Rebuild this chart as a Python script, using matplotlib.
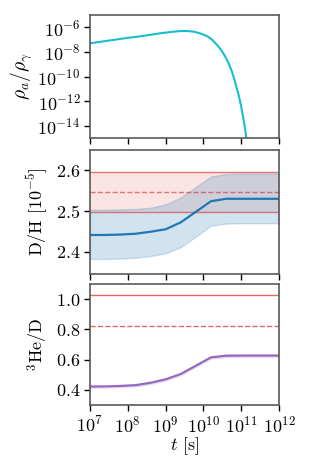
import numpy as np
import matplotlib
matplotlib.use('Agg')
import matplotlib.pyplot as plt
import matplotlib.ticker as mt

plt.rcParams['font.family'] = ['cmr10', 'DejaVu Serif']
plt.rcParams['mathtext.fontset'] = 'cm'
plt.rcParams['axes.formatter.use_mathtext'] = True
plt.rcParams['font.size'] = 13

# axion energy density ratio (log10 values)
logt_rho = [7.0, 7.5, 8.0, 8.32, 8.85, 9.2, 9.38, 9.55, 9.73, 9.9, 10.09, 10.22, 10.35,
            10.47, 10.57, 10.67, 10.75, 10.82, 10.88, 10.94, 10.99, 11.03, 11.07, 11.1, 11.14]
logrho = [-7.30, -7.08, -6.86, -6.74, -6.49, -6.36, -6.31, -6.30, -6.35, -6.48, -6.71, -6.98, -7.39,
          -7.85, -8.34, -8.95, -9.57, -10.25, -10.93, -11.6, -12.29, -12.95, -13.65, -14.2, -15.1]

# BBN outputs on the time grid
logt = [7.0, 7.4, 7.8, 8.2, 8.6, 9.0, 9.4, 9.8, 10.2, 10.6, 11.0, 11.4, 11.8, 12.0]
dh_mid = [2.441, 2.441, 2.442, 2.444, 2.449, 2.455, 2.472, 2.498, 2.524, 2.530, 2.530, 2.530, 2.530, 2.530]
dh_hi = [2.503, 2.503, 2.504, 2.505, 2.508, 2.516, 2.533, 2.559, 2.585, 2.591, 2.592, 2.592, 2.592, 2.592]
dh_lo = [2.382, 2.382, 2.383, 2.385, 2.389, 2.396, 2.411, 2.437, 2.464, 2.469, 2.470, 2.470, 2.470, 2.470]
he3d_mid = [0.422, 0.423, 0.426, 0.431, 0.447, 0.470, 0.505, 0.560, 0.615, 0.626, 0.627, 0.627, 0.627, 0.627]
he3d_err = 0.012

# observations
dh_obs, dh_obs_err = 2.547, 0.05
he3d_obs, he3d_up = 0.82, 1.03

t_rho = 10**np.array(logt_rho)
rho = 10**np.array(logrho)
t = 10**np.array(logt)
he3d_mid = np.array(he3d_mid)

fig = plt.figure(figsize=(3.12, 4.68), dpi=100)
L, W = 0.2885, 0.6058
ax1 = fig.add_axes([L, 0.705, W, 0.263])
ax2 = fig.add_axes([L, 0.4145, W, 0.265])
ax3 = fig.add_axes([L, 0.1346, W, 0.2584])

ax1.plot(t_rho, rho, color='#17becf', lw=1.5)
ax1.set_yscale('log')
ax1.set_ylim(1e-15, 1e-5)
ax1.yaxis.set_major_locator(mt.FixedLocator([1e-6, 1e-8, 1e-10, 1e-12, 1e-14]))
ax1.set_ylabel(r'$\rho_a/\rho_\gamma$', labelpad=2, fontsize=14)

ax2.axhspan(dh_obs - dh_obs_err, dh_obs + dh_obs_err, color='tab:red', alpha=0.12, lw=0)
ax2.axhline(dh_obs + dh_obs_err, color='tab:red', alpha=0.6, lw=1)
ax2.axhline(dh_obs - dh_obs_err, color='tab:red', alpha=0.6, lw=1)
ax2.axhline(dh_obs, color='tab:red', alpha=0.6, lw=1, ls='--')
ax2.fill_between(t, dh_lo, dh_hi, color='tab:blue', alpha=0.2, lw=1)
ax2.plot(t, dh_mid, color='tab:blue', lw=1.6)
ax2.set_ylim(2.345, 2.65)
ax2.set_yticks([2.4, 2.5, 2.6])
ax2.set_ylabel(r'D/H [$10^{-5}$]', labelpad=4)

ax3.axhline(he3d_up, color='tab:red', alpha=0.7, lw=1)
ax3.axhline(he3d_obs, color='tab:red', alpha=0.7, lw=1, ls='--')
ax3.fill_between(t, he3d_mid - he3d_err, he3d_mid + he3d_err, color='tab:purple', alpha=0.25, lw=0)
ax3.plot(t, he3d_mid, color='tab:purple', lw=1.5)
ax3.set_ylim(0.3, 1.1)
ax3.set_yticks([0.4, 0.6, 0.8, 1.0])
ax3.set_ylabel(r'$^3$He/D', labelpad=4)
ax3.set_xlabel(r'$t$ [s]', labelpad=0)

for ax in (ax1, ax2, ax3):
    ax.set_xscale('log')
    ax.set_xlim(1e7, 1e12)
    ax.xaxis.set_major_locator(mt.LogLocator(base=10, numticks=10))
    ax.xaxis.set_minor_locator(mt.NullLocator())
    ax.yaxis.set_minor_locator(mt.NullLocator())
    ax.tick_params(length=4, width=1, pad=3)
    for s in ax.spines.values():
        s.set_color('0.35')
        s.set_linewidth(1.2)
for ax in (ax1, ax2):
    ax.tick_params(labelbottom=False)

fig.savefig('out.png', dpi=100)
